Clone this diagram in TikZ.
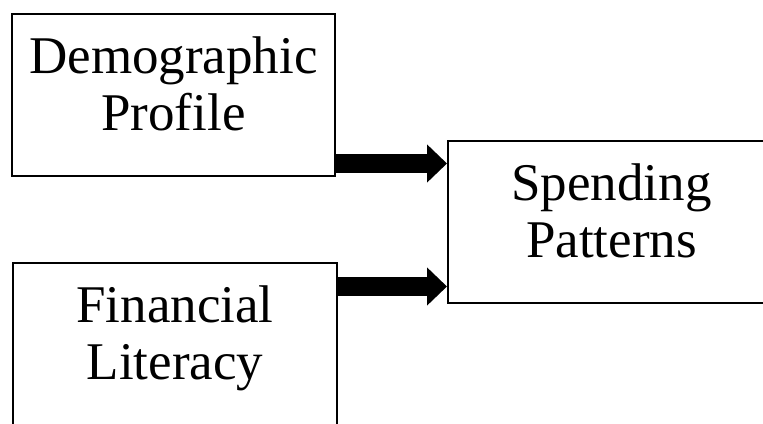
\documentclass[tikz,border=0pt]{standalone}
\usepackage{fontspec}
\setmainfont{Liberation Serif}
\usetikzlibrary{arrows.meta,calc}

\tikzset{
    block/.style={
        rectangle,
        draw=black,
        line width=1pt,
        align=center,
        inner sep=0pt,
        minimum height=81pt,
        text depth=11pt,
        font=\fontsize{26.5pt}{28.5pt}\selectfont
    },
    fatarrow/.style={
        line width=9.5pt,
        -{Triangle[width=18.5pt,length=10pt]}
    }
}

\begin{document}
\begin{tikzpicture}[x=0.5pt,y=0.5pt]
    \useasboundingbox (0,0) rectangle (763,423);
    \clip (0,0) rectangle (763,423);

    % Factores
    \node[block, minimum width=161.5pt] (demo)  at (173.5,328) {Demographic\\Profile};
    \node[block, minimum width=162pt]   (fin)   at (175,79)    {Financial\\Literacy};

    % Resultado
    \node[block, minimum width=163.5pt] (spend) at (611.5,201) {Spending\\Patterns};

    % Flechas
    \draw[fatarrow] ($(demo.south east)+(0,13.5)$) coordinate (t1) -- (t1 -| spend.west);
    \draw[fatarrow] ($(fin.north east)+(0,-24.5)$) coordinate (b1) -- (b1 -| spend.west);

\end{tikzpicture}
\end{document}
